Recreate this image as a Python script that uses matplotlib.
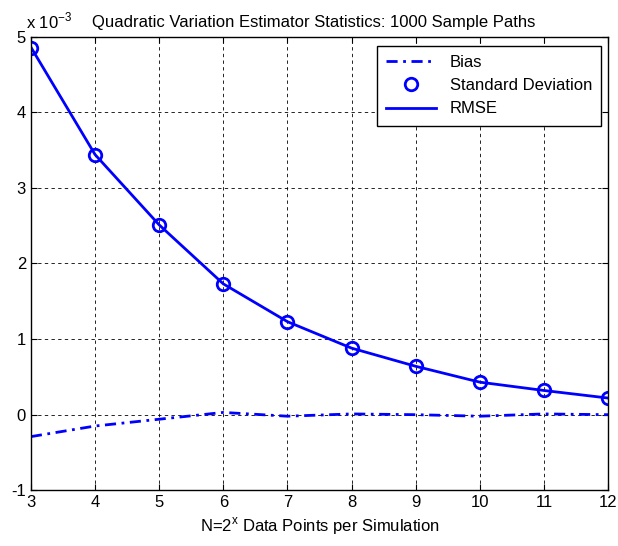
import matplotlib
matplotlib.use('Agg')
import matplotlib.pyplot as plt
import numpy as np

plt.rcParams['font.family'] = ['Liberation Sans', 'DejaVu Sans']
plt.rcParams['axes.unicode_minus'] = False

# values in units of 1e-3
n_exp = [3, 4, 5, 6, 7, 8, 9, 10, 11, 12]
bias = [-0.29, -0.15, -0.06, 0.03, -0.02, 0.01, 0.0, -0.02, 0.01, 0.0]
std_dev = [4.85, 3.44, 2.51, 1.73, 1.23, 0.88, 0.64, 0.43, 0.32, 0.22]
rmse = [4.86, 3.44, 2.51, 1.73, 1.23, 0.88, 0.64, 0.43, 0.32, 0.22]

FS = 12

fig = plt.figure(figsize=(6.18, 5.46), dpi=100)
ax = fig.add_axes([0.050, 0.102, 0.934, 0.831])

ax.plot(n_exp, bias, color='blue', lw=2, ls=(0, (4, 2, 1, 2)), label='Bias')
ax.plot(n_exp, std_dev, 'o', color='blue', mfc='none', mew=2, ms=9,
        label='Standard Deviation')
ax.plot(n_exp, rmse, '-', color='blue', lw=2, label='RMSE')

ax.set_xlim(3, 12)
ax.set_ylim(-1, 5)
ax.set_xticks(range(3, 13))
ax.set_yticks(range(-1, 6))
ax.grid(True, color='black', ls=(0, (4, 4)), lw=0.6)
ax.tick_params(direction='in', top=True, right=True, labelsize=FS, length=4)
for s in ax.spines.values():
    s.set_linewidth(1)

ax.set_xlabel('N=2$^{\\mathregular{x}}$ Data Points per Simulation', fontsize=FS)
ax.set_title('Quadratic Variation Estimator Statistics: 1000 Sample Paths',
             fontsize=FS, pad=7, x=0.49)
ax.text(-0.008, 1.012, 'x 10$^{\\mathregular{-3}}$', transform=ax.transAxes,
        fontsize=FS, ha='left', va='bottom')

leg = ax.legend(loc='upper right', bbox_to_anchor=(0.988, 0.980), fancybox=False,
                framealpha=1, edgecolor='black', fontsize=FS, borderaxespad=0,
                handlelength=3.0, labelspacing=0.5, borderpad=0.55)
leg.get_frame().set_linewidth(1)

fig.savefig('out.png', dpi=100)
